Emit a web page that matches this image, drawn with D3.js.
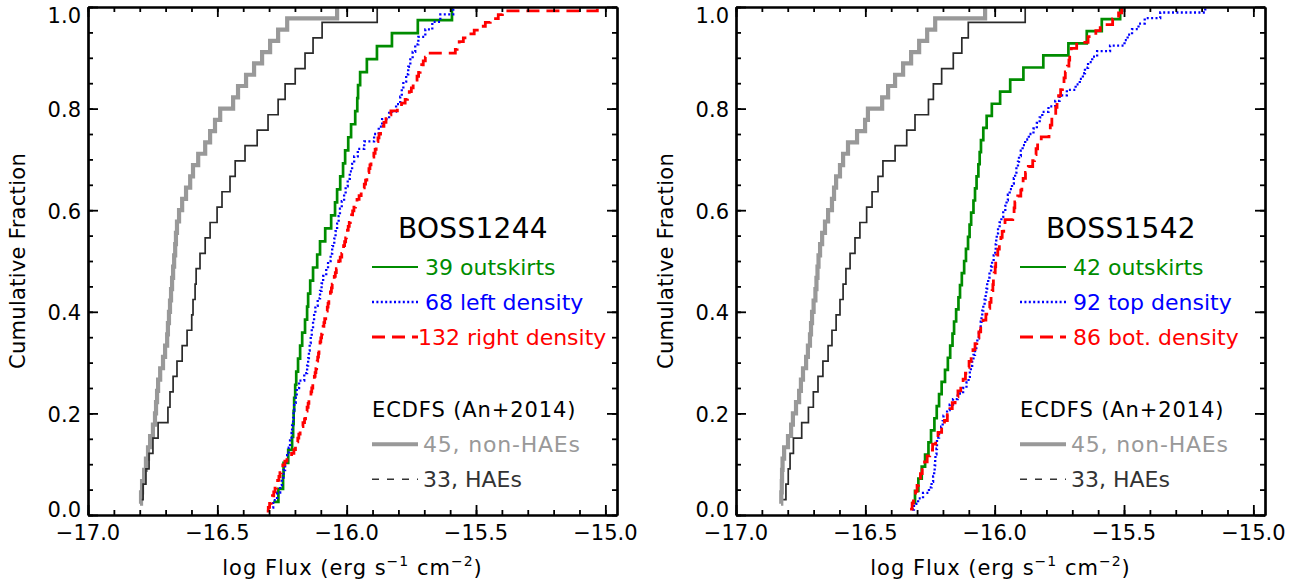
<!DOCTYPE html>
<html lang="en">
<head>
<meta charset="utf-8">
<title>Cumulative flux distributions</title>
<script src="https://cdnjs.cloudflare.com/ajax/libs/d3/7.8.5/d3.min.js"></script>
<style>
  body { margin: 0; background: #fff; }
  svg text { font-family: "DejaVu Sans", Verdana, sans-serif; }
</style>
</head>
<body>
<svg id="canvas" width="1301" height="586"></svg>
<script>
// ticks
const xTicks = [-17.0, -16.5, -16.0, -15.5, -15.0];
const yTicks = [0.0, 0.2, 0.4, 0.6, 0.8, 1.0];

// ---- BOSS1244 panel (log flux of each object, sorted) ----
const ecdfsNonHae1244 = [-16.799,-16.795,-16.791,-16.783,-16.776,-16.768,-16.760,-16.749,-16.741,-16.737,
  -16.733,-16.729,-16.721,-16.710,-16.702,-16.694,-16.691,-16.687,-16.683,-16.679,
  -16.675,-16.671,-16.667,-16.663,-16.660,-16.656,-16.648,-16.636,-16.621,-16.605,
  -16.594,-16.574,-16.547,-16.528,-16.509,-16.489,-16.439,-16.420,-16.389,-16.358,
  -16.327,-16.296,-16.265,-16.230,-16.037];
const ecdfsHae1244 = [-16.792,-16.787,-16.776,-16.764,-16.749,-16.729,-16.691,-16.683,-16.671,-16.656,
  -16.636,-16.617,-16.599,-16.594,-16.586,-16.582,-16.567,-16.547,-16.528,-16.501,
  -16.482,-16.451,-16.431,-16.393,-16.346,-16.304,-16.265,-16.238,-16.199,-16.161,
  -16.130,-16.095,-15.882];
const outskirts1244 = [-16.284,-16.264,-16.246,-16.244,-16.226,-16.211,-16.207,-16.205,-16.203,-16.199,
  -16.195,-16.188,-16.180,-16.172,-16.161,-16.153,-16.149,-16.141,-16.130,-16.114,
  -16.103,-16.083,-16.060,-16.045,-16.037,-16.025,-16.014,-16.006,-15.994,-15.983,
  -15.967,-15.959,-15.956,-15.948,-15.922,-15.883,-15.825,-15.725,-15.593];
const leftDensity1244 = [-16.304,-16.284,-16.269,-16.257,-16.251,-16.244,-16.238,-16.230,-16.224,-16.219,
  -16.213,-16.211,-16.207,-16.205,-16.203,-16.197,-16.193,-16.184,-16.164,-16.153,
  -16.149,-16.146,-16.143,-16.139,-16.135,-16.130,-16.126,-16.121,-16.112,-16.103,
  -16.097,-16.091,-16.079,-16.072,-16.062,-16.056,-16.048,-16.043,-16.037,-16.031,
  -16.026,-16.019,-16.010,-16.004,-15.996,-15.988,-15.979,-15.971,-15.957,-15.932,
  -15.894,-15.876,-15.863,-15.836,-15.809,-15.793,-15.787,-15.781,-15.770,-15.762,
  -15.754,-15.745,-15.735,-15.723,-15.696,-15.669,-15.638,-15.588];
const rightDensity1244 = [-16.309,-16.303,-16.298,-16.292,-16.287,-16.282,-16.277,-16.271,-16.267,-16.262,
  -16.258,-16.253,-16.247,-16.239,-16.231,-16.213,-16.204,-16.198,-16.193,-16.189,
  -16.185,-16.180,-16.175,-16.169,-16.163,-16.159,-16.156,-16.153,-16.149,-16.146,
  -16.142,-16.138,-16.135,-16.131,-16.128,-16.125,-16.122,-16.119,-16.116,-16.114,
  -16.112,-16.109,-16.107,-16.105,-16.103,-16.100,-16.097,-16.094,-16.091,-16.088,
  -16.085,-16.081,-16.078,-16.075,-16.072,-16.069,-16.066,-16.063,-16.059,-16.056,
  -16.052,-16.048,-16.044,-16.040,-16.036,-16.031,-16.025,-16.019,-16.016,-16.012,
  -16.008,-16.004,-16.001,-15.997,-15.994,-15.990,-15.986,-15.981,-15.977,-15.972,
  -15.966,-15.960,-15.952,-15.944,-15.938,-15.932,-15.927,-15.922,-15.918,-15.914,
  -15.910,-15.906,-15.901,-15.895,-15.890,-15.886,-15.883,-15.879,-15.875,-15.869,
  -15.864,-15.856,-15.848,-15.840,-15.829,-15.804,-15.788,-15.774,-15.765,-15.758,
  -15.750,-15.743,-15.736,-15.728,-15.722,-15.716,-15.710,-15.704,-15.696,-15.685,
  -15.580,-15.573,-15.565,-15.549,-15.530,-15.507,-15.484,-15.464,-15.445,-15.414,
  -15.398,-15.031];

// ---- BOSS1542 panel ----
const ecdfsNonHae1542 = [-16.826,-16.825,-16.823,-16.822,-16.820,-16.814,-16.799,-16.787,-16.780,-16.768,
  -16.756,-16.749,-16.741,-16.729,-16.722,-16.714,-16.710,-16.706,-16.700,-16.693,
  -16.689,-16.685,-16.681,-16.675,-16.667,-16.656,-16.644,-16.629,-16.621,-16.613,
  -16.598,-16.586,-16.567,-16.532,-16.501,-16.490,-16.435,-16.412,-16.385,-16.354,
  -16.323,-16.292,-16.261,-16.230,-16.037];
const ecdfsHae1542 = [-16.817,-16.807,-16.798,-16.791,-16.778,-16.746,-16.720,-16.701,-16.683,-16.664,
  -16.644,-16.629,-16.613,-16.598,-16.586,-16.575,-16.559,-16.540,-16.521,-16.495,
  -16.474,-16.451,-16.432,-16.385,-16.340,-16.308,-16.256,-16.237,-16.205,-16.160,
  -16.127,-16.102,-15.882];
const outskirts1542 = [-16.321,-16.308,-16.295,-16.282,-16.269,-16.256,-16.246,-16.233,-16.224,-16.215,
  -16.205,-16.192,-16.181,-16.172,-16.163,-16.157,-16.149,-16.140,-16.134,-16.127,
  -16.118,-16.111,-16.103,-16.097,-16.091,-16.082,-16.076,-16.070,-16.063,-16.058,
  -16.053,-16.044,-16.031,-16.011,-15.979,-15.940,-15.889,-15.812,-15.715,-15.644,
  -15.586,-15.515];
const topDensity1542 = [-16.319,-16.312,-16.296,-16.277,-16.254,-16.244,-16.238,-16.234,-16.232,-16.230,
  -16.229,-16.225,-16.223,-16.223,-16.215,-16.207,-16.201,-16.198,-16.184,-16.174,
  -16.161,-16.143,-16.122,-16.109,-16.101,-16.096,-16.092,-16.087,-16.082,-16.076,
  -16.071,-16.067,-16.061,-16.056,-16.054,-16.051,-16.048,-16.044,-16.039,-16.035,
  -16.032,-16.029,-16.025,-16.020,-16.014,-16.010,-16.004,-15.998,-15.996,-15.994,
  -15.992,-15.987,-15.981,-15.974,-15.967,-15.959,-15.954,-15.949,-15.942,-15.933,
  -15.926,-15.921,-15.916,-15.910,-15.906,-15.899,-15.892,-15.882,-15.868,-15.850,
  -15.837,-15.826,-15.816,-15.792,-15.766,-15.749,-15.721,-15.687,-15.671,-15.659,
  -15.651,-15.639,-15.623,-15.604,-15.554,-15.498,-15.486,-15.469,-15.444,-15.420,
  -15.360,-15.186];
const botDensity1542 = [-16.327,-16.319,-16.314,-16.306,-16.300,-16.294,-16.287,-16.280,-16.271,-16.261,
  -16.251,-16.240,-16.228,-16.219,-16.205,-16.194,-16.183,-16.173,-16.164,-16.153,
  -16.142,-16.131,-16.122,-16.113,-16.106,-16.099,-16.091,-16.084,-16.076,-16.069,
  -16.061,-16.054,-16.045,-16.034,-16.024,-16.019,-16.014,-16.010,-16.007,-16.005,
  -16.002,-15.998,-15.996,-15.993,-15.988,-15.982,-15.976,-15.971,-15.965,-15.960,
  -15.930,-15.925,-15.922,-15.911,-15.899,-15.895,-15.890,-15.881,-15.870,-15.853,
  -15.846,-15.840,-15.834,-15.820,-15.790,-15.785,-15.779,-15.771,-15.764,-15.759,
  -15.753,-15.745,-15.738,-15.732,-15.727,-15.719,-15.713,-15.710,-15.704,-15.683,
  -15.639,-15.609,-15.592,-15.544,-15.521,-15.509];

// legend texts
const legend1244 = ["39 outskirts", "68 left density", "132 right density"];
const legend1542 = ["42 outskirts", "92 top density", "86 bot. density"];
const ecdfsTitle = "ECDFS (An+2014)";
const ecdfsLabels = ["45, non-HAEs", "33, HAEs"];

// line styles: grey thick, dark thin, green, blue dotted, red dashed
const styles = [
  {stroke: "#999999", width: 4.2, dash: null},
  {stroke: "#2a2a2a", width: 1.7, dash: null},
  {stroke: "#008c00", width: 2.7, dash: null},
  {stroke: "#0000ff", width: 2.3, dash: "2,2.4"},
  {stroke: "#ff0000", width: 2.8, dash: "13,7"}
];

const panels = [
  {title: "BOSS1244", x0: 88, series: [ecdfsNonHae1244, ecdfsHae1244, outskirts1244, leftDensity1244, rightDensity1244], legend: legend1244},
  {title: "BOSS1542", x0: 736, series: [ecdfsNonHae1542, ecdfsHae1542, outskirts1542, topDensity1542, botDensity1542], legend: legend1542}
];

const W = 529, yTop = 7, yBottom = 515;
const svg = d3.select("#canvas");
svg.append("rect").attr("width", 1301).attr("height", 586).attr("fill", "#fff");

panels.forEach(function(p) {
  const x = d3.scaleLinear().domain([-17.0, -14.955]).range([p.x0, p.x0 + W]);
  const y = d3.scaleLinear().domain([0, 1]).range([yBottom, yTop]);
  const g = svg.append("g");

  // step curves (empirical cumulative distribution)
  const line = d3.line()
    .x(function(d) { return x(d[0]); })
    .y(function(d) { return y(d[1]); })
    .curve(d3.curveStepAfter);

  p.series.forEach(function(vals, i) {
    const s = d3.sort(vals);
    const pts = s.map(function(v, k) { return [v, (k + 1) / s.length]; });
    g.append("path")
      .attr("d", line(pts))
      .attr("fill", "none")
      .attr("stroke", styles[i].stroke)
      .attr("stroke-width", styles[i].width)
      .attr("stroke-dasharray", styles[i].dash)
      .attr("stroke-linejoin", "miter");
  });

  // frame + ticks (inward, on all four sides)
  const minorX = d3.range(-17.0, -14.95, 0.1);
  const minorY = d3.range(0, 1.001, 0.05);
  const sides = [
    [d3.axisBottom(x), "translate(0," + yBottom + ")", xTicks, minorX],
    [d3.axisTop(x), "translate(0," + yTop + ")", xTicks, minorX],
    [d3.axisLeft(y), "translate(" + p.x0 + ",0)", yTicks, minorY],
    [d3.axisRight(y), "translate(" + (p.x0 + W) + ",0)", yTicks, minorY]
  ];
  sides.forEach(function(sd) {
    const major = g.append("g").attr("transform", sd[1])
      .call(sd[0].tickValues(sd[2]).tickSize(-10).tickSizeOuter(0).tickFormat(""));
    const minor = g.append("g").attr("transform", sd[1])
      .call(sd[0].tickValues(sd[3]).tickSize(-5).tickSizeOuter(0).tickFormat(""));
    [major, minor].forEach(function(a) {
      a.select(".domain").attr("stroke", "#000").attr("stroke-width", 2.2);
      a.selectAll(".tick line").attr("stroke", "#000").attr("stroke-width", 1.8);
    });
  });

  // tick labels
  const fmt = d3.format(".1f");
  g.selectAll(".xlab").data(xTicks).join("text")
    .attr("x", function(d) { return x(d); })
    .attr("y", 540)
    .attr("text-anchor", "middle")
    .attr("font-size", 21)
    .text(function(d) { return fmt(d); });
  g.selectAll(".ylab").data(yTicks).join("text")
    .attr("x", p.x0 - 7)
    .attr("y", function(d) { return y(d) + 8.5 + (d === 1 ? 7 : d === 0 ? -7 : 0); })
    .attr("text-anchor", "end")
    .attr("font-size", 21)
    .text(function(d) { return fmt(d); });

  // axis titles
  const xt = g.append("text")
    .attr("x", p.x0 + W / 2).attr("y", 575)
    .attr("text-anchor", "middle").attr("font-size", 21).style("letter-spacing", "1px");
  xt.append("tspan").text("log Flux (erg s");
  xt.append("tspan").attr("font-size", 14).attr("dy", -9).text("\u22121");
  xt.append("tspan").attr("dy", 9).text(" cm");
  xt.append("tspan").attr("font-size", 14).attr("dy", -9).text("\u22122");
  xt.append("tspan").attr("dy", 9).text(")");

  g.append("text")
    .attr("transform", "translate(" + (p.x0 - 63) + "," + ((yTop + yBottom) / 2) + ") rotate(-90)")
    .attr("text-anchor", "middle").attr("font-size", 21).style("letter-spacing", "0.3px")
    .text("Cumulative Fraction");

  // legend
  const lx = p.x0 + 284, tx = p.x0 + 337;
  g.append("text").attr("x", p.x0 + 310).attr("y", 238)
    .attr("font-size", 28).style("letter-spacing", "0.3px").text(p.title);
  const rowsY = [275, 310, 345];
  p.legend.forEach(function(lab, i) {
    const st = styles[i + 2];
    g.append("line").attr("x1", lx).attr("x2", lx + 46)
      .attr("y1", rowsY[i] - 8).attr("y2", rowsY[i] - 8)
      .attr("stroke", st.stroke).attr("stroke-width", i === 0 ? 2 : st.width)
      .attr("stroke-dasharray", st.dash);
    // numbers are right-aligned on a two-digit field, so three digits start a little left
    const shift = lab.split(" ")[0].length > 2 ? -7 : 0;
    g.append("text").attr("x", tx + shift).attr("y", rowsY[i])
      .attr("font-size", 22).attr("fill", st.stroke).text(lab);
  });
  g.append("text").attr("x", p.x0 + 284).attr("y", 416.7)
    .attr("font-size", 21).style("letter-spacing", "0.9px").text(ecdfsTitle);
  const eY = [451.7, 486.7];
  const eStyles = [
    {stroke: "#999999", width: 4, dash: null},
    {stroke: "#333333", width: 1.6, dash: "7,8"}
  ];
  ecdfsLabels.forEach(function(lab, i) {
    g.append("line").attr("x1", lx).attr("x2", lx + 46)
      .attr("y1", eY[i] - 7.5).attr("y2", eY[i] - 7.5)
      .attr("stroke", eStyles[i].stroke).attr("stroke-width", eStyles[i].width)
      .attr("stroke-dasharray", eStyles[i].dash);
    g.append("text").attr("x", tx - 2).attr("y", eY[i])
      .attr("font-size", 22).style("letter-spacing", i === 0 ? "0.8px" : "0px")
      .attr("fill", eStyles[i].stroke).text(lab);
  });
});
</script>
</body>
</html>
